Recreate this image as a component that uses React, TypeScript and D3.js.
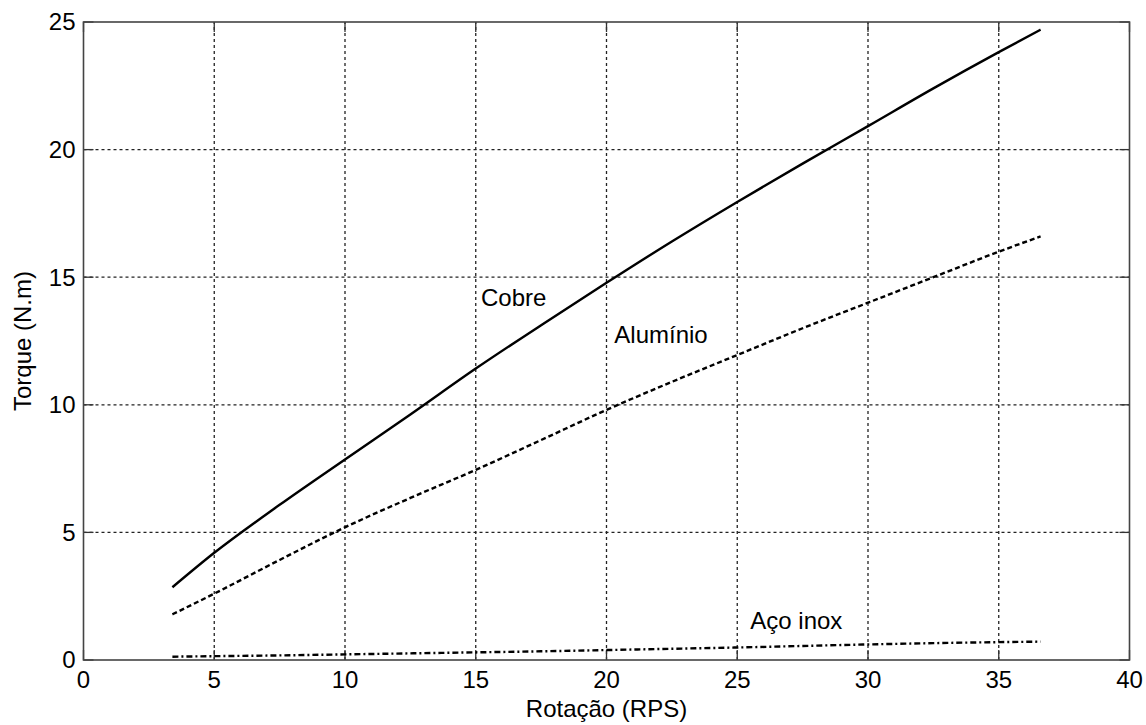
import { useEffect, useRef } from 'react';
import * as d3 from 'd3';

// rotation (RPS) sample points
const rotation = [3.4, 5, 7.5, 10, 12.5, 15, 17.5, 20, 22.5, 25, 27.5, 30, 32.5, 35, 36.6];
// torque (N.m) per material
const cobre = [2.85, 4.2, 6.08, 7.86, 9.62, 11.42, 13.12, 14.78, 16.4, 17.95, 19.45, 20.92, 22.4, 23.82, 24.7];
const aluminio = [1.79, 2.6, 3.92, 5.2, 6.35, 7.45, 8.62, 9.8, 10.9, 11.95, 13.0, 14.0, 15.0, 16.0, 16.6];
const acoInox = [0.13, 0.15, 0.18, 0.22, 0.26, 0.3, 0.34, 0.39, 0.44, 0.49, 0.55, 0.61, 0.66, 0.7, 0.72];

const xTicks = [0, 5, 10, 15, 20, 25, 30, 35, 40];
const yTicks = [0, 5, 10, 15, 20, 25];

export default function App() {
  const svgRef = useRef<SVGSVGElement>(null);

  useEffect(() => {
    if (!svgRef.current) return;
    const width = 1146;
    const height = 725;
    const margin = { top: 22, right: 16.5, bottom: 65, left: 83.5 };
    const font = '"Liberation Sans", Arial, sans-serif';

    const svg = d3.select(svgRef.current).attr('width', width).attr('height', height);
    svg.selectAll('*').remove();

    const x = d3.scaleLinear().domain([0, 40]).range([margin.left, width - margin.right]);
    const y = d3.scaleLinear().domain([0, 25]).range([height - margin.bottom, margin.top]);

    const x0 = x(0), x1 = x(40), y0 = y(0), y1 = y(25);

    // grid
    const grid = svg.append('g').attr('stroke', '#222').attr('stroke-width', 1.3).attr('stroke-dasharray', '3,3');
    xTicks.slice(1, -1).forEach(t => {
      grid.append('line').attr('x1', x(t)).attr('x2', x(t)).attr('y1', y0).attr('y2', y1);
    });
    yTicks.slice(1, -1).forEach(t => {
      grid.append('line').attr('x1', x0).attr('x2', x1).attr('y1', y(t)).attr('y2', y(t));
    });

    // inward ticks
    const ticks = svg.append('g').attr('stroke', '#333').attr('stroke-width', 1.3);
    xTicks.forEach(t => {
      ticks.append('line').attr('x1', x(t)).attr('x2', x(t)).attr('y1', y0).attr('y2', y0 - 10);
      ticks.append('line').attr('x1', x(t)).attr('x2', x(t)).attr('y1', y1).attr('y2', y1 + 10);
    });
    yTicks.forEach(t => {
      ticks.append('line').attr('x1', x0).attr('x2', x0 + 10).attr('y1', y(t)).attr('y2', y(t));
      ticks.append('line').attr('x1', x1).attr('x2', x1 - 10).attr('y1', y(t)).attr('y2', y(t));
    });

    // series
    const line = d3.line<number>()
      .x((_, i) => x(rotation[i]))
      .y(d => y(d))
      .curve(d3.curveMonotoneX);

    const series = [
      { values: cobre, dash: null, width: 2.4 },
      { values: aluminio, dash: '5,3', width: 2.4 },
      { values: acoInox, dash: '6,3,2,3', width: 2.4 },
    ];
    series.forEach(s => {
      svg.append('path')
        .datum(s.values)
        .attr('fill', 'none')
        .attr('stroke', '#000')
        .attr('stroke-width', s.width)
        .attr('stroke-dasharray', s.dash)
        .attr('d', line);
    });

    // frame
    svg.append('rect')
      .attr('x', x0).attr('y', y1)
      .attr('width', x1 - x0).attr('height', y0 - y1)
      .attr('fill', 'none').attr('stroke', '#444').attr('stroke-width', 1.6);

    // tick labels
    const labels = svg.append('g').attr('font-family', font).attr('font-size', 24).attr('fill', '#000');
    xTicks.forEach(t => {
      labels.append('text').attr('x', x(t)).attr('y', y0 + 28).attr('text-anchor', 'middle').text(String(t));
    });
    yTicks.forEach(t => {
      labels.append('text').attr('x', x0 - 8).attr('y', y(t)).attr('dy', '0.35em')
        .attr('text-anchor', 'end').text(String(t));
    });

    // axis titles
    labels.append('text')
      .attr('x', (x0 + x1) / 2).attr('y', height - 8)
      .attr('text-anchor', 'middle').text('Rotação (RPS)');
    labels.append('text')
      .attr('transform', `translate(31,${(y0 + y1) / 2}) rotate(-90)`)
      .attr('text-anchor', 'middle').text('Torque (N.m)');

    // series annotations
    const notes = [
      { text: 'Cobre', xv: 15.2, yv: 14.2 },
      { text: 'Alumínio', xv: 20.3, yv: 12.75 },
      { text: 'Aço inox', xv: 25.5, yv: 1.55 },
    ];
    notes.forEach(n => {
      labels.append('text').attr('x', x(n.xv)).attr('y', y(n.yv)).attr('dy', '0.35em').text(n.text);
    });
  }, []);

  return (
    <svg ref={svgRef} style={{ position: 'absolute', left: 0, top: 0, background: '#fff' }} />
  );
}
